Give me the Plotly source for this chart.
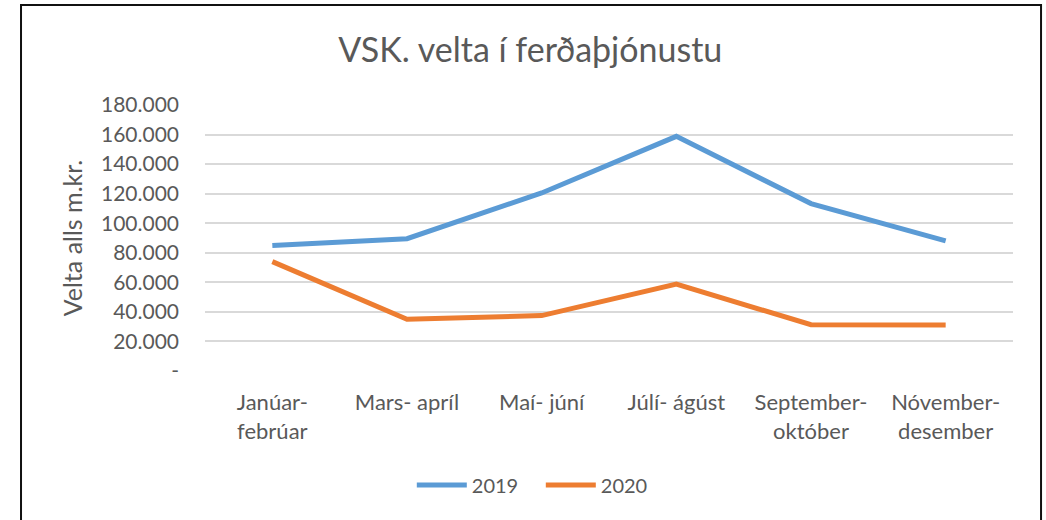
import plotly.graph_objects as go

# periods (two-month bins) and VAT turnover, m.kr.
periods = ["Janúar-<br>febrúar", "Mars- apríl", "Maí- júní", "Júlí- ágúst",
           "September-<br>október", "Nóvember-<br>desember"]
velta2019 = [85000, 89500, 120500, 158800, 113300, 88000]
velta2020 = [74000, 35000, 37500, 58800, 31300, 31100]

yTicks = [0, 20000, 40000, 60000, 80000, 100000, 120000, 140000, 160000, 180000]
yTickText = ["-", "20.000", "40.000", "60.000", "80.000", "100.000",
             "120.000", "140.000", "160.000", "180.000"]

fnt = "Lato, Open Sans, sans-serif"
grey = "#595959"

fig = go.Figure()
fig.add_trace(go.Scatter(x=periods, y=velta2019, mode="lines", name="2019",
                         line=dict(color="#5B9BD5", width=5)))
fig.add_trace(go.Scatter(x=periods, y=velta2020, mode="lines", name="2020",
                         line=dict(color="#ED7D31", width=5)))

fig.update_layout(
    width=1046, height=520,
    margin=dict(l=205, r=33, t=105, b=149),
    paper_bgcolor="white", plot_bgcolor="white",
    font=dict(family=fnt, color=grey),
    title=dict(text="VSK. velta í ferðaþjónustu", x=0.507, xref="container",
               y=0.904, yref="container", xanchor="center", yanchor="middle",
               font=dict(size=34, color=grey)),
    showlegend=True,
    legend=dict(orientation="h", x=0.4156, xanchor="center", y=-0.429, yanchor="middle",
                font=dict(size=20, color=grey), itemwidth=50,
                entrywidth=64, entrywidthmode="pixels", tracegroupgap=0),
    hovermode=False,
)

fig.update_xaxes(range=[-0.5, 5.5], showgrid=False, showline=False, zeroline=False,
                 ticks="", ticklabelstandoff=16, tickfont=dict(size=22, color=grey))
fig.update_yaxes(range=[0, 180000], tickvals=yTicks, ticktext=yTickText,
                 showgrid=True, gridcolor="#D9D9D9", gridwidth=2,
                 zeroline=False, showline=False, ticks="", ticklabelstandoff=25,
                 tickfont=dict(size=21, color=grey),
                 title=dict(text="Velta alls m.kr.", font=dict(size=25, color=grey), standoff=11))

# the chart's outer frame
fig.add_shape(type="rect", xref="paper", yref="paper",
              x0=-0.2277, x1=1.0347, y0=-0.6, y1=1.376,
              line=dict(color="#111111", width=2), fillcolor="rgba(0,0,0,0)")

# drop the default body margin so the figure sits at the window's corner
fig.write_html("out.html", config={"displayModeBar": False},
               post_script="document.body.style.margin='0';document.body.style.overflow='hidden';")
